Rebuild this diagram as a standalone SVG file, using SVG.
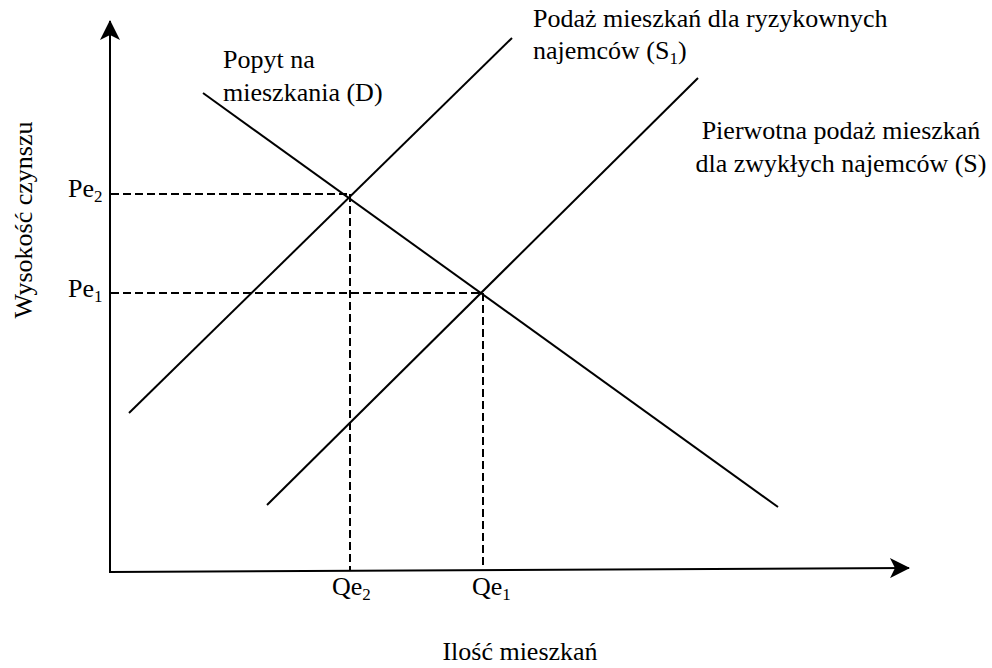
<svg xmlns="http://www.w3.org/2000/svg" width="992" height="668" viewBox="0 0 992 668">
<style>
  .ln { stroke: #000; stroke-width: 2; fill: none; }
  .dash { stroke: #000; stroke-width: 2; fill: none; stroke-dasharray: 8 4; }
  text { font-family: "Liberation Serif", "Times New Roman", Tinos, "DejaVu Serif", serif; font-size: 26px; fill: #000; }
  .sub { font-size: 17px; }
</style>
<defs>
  <marker id="arr" viewBox="-20 -10 21 20" markerWidth="21" markerHeight="20" refX="0" refY="0" orient="auto" markerUnits="userSpaceOnUse">
    <path d="M1,0 L-19,-10 L-14,0 L-19,10 Z" fill="#000"/>
  </marker>
</defs>
<rect width="992" height="668" fill="#fff"/>
<g id="axes">
  <line class="ln" x1="110" y1="572" x2="110" y2="21" marker-end="url(#arr)"/>
  <line class="ln" x1="109" y1="572" x2="909" y2="568" marker-end="url(#arr)"/>
</g>
<g id="connectors">
  <line id="D" class="ln" x1="203" y1="93" x2="778" y2="507"/>
  <line id="S1" class="ln" x1="129" y1="413" x2="512" y2="38"/>
  <line id="S" class="ln" x1="267" y1="505" x2="698" y2="78"/>
  <line class="dash" x1="111" y1="194" x2="350" y2="194"/>
  <line class="dash" x1="350" y1="194" x2="350" y2="570"/>
  <line class="dash" x1="111" y1="293" x2="483" y2="293"/>
  <line class="dash" x1="483" y1="293" x2="483" y2="569"/>
</g>
<g id="label-D">
  <text x="223" y="68">Popyt na</text>
  <text x="223" y="101">mieszkania (D)</text>
</g>
<g id="label-S1">
  <text x="533" y="27">Podaż mieszkań dla ryzykownych</text>
  <text x="533" y="59">najemców (S<tspan class="sub" dy="5">1</tspan><tspan dy="-5">)</tspan></text>
</g>
<g id="label-S">
  <text x="841" y="139" text-anchor="middle">Pierwotna podaż mieszkań</text>
  <text x="841" y="172" text-anchor="middle">dla zwykłych najemców (S)</text>
</g>
<g id="label-Pe2"><text x="68" y="197">Pe<tspan class="sub" dy="5">2</tspan></text></g>
<g id="label-Pe1"><text x="68" y="297">Pe<tspan class="sub" dy="5">1</tspan></text></g>
<g id="label-Qe2"><text x="332" y="595">Qe<tspan class="sub" dy="5">2</tspan></text></g>
<g id="label-Qe1"><text x="472" y="595">Qe<tspan class="sub" dy="5">1</tspan></text></g>
<g id="label-x"><text x="520" y="660" text-anchor="middle">Ilość mieszkań</text></g>
<g id="label-y"><text transform="translate(32,220) rotate(-90)" text-anchor="middle">Wysokość czynszu</text></g>
</svg>
